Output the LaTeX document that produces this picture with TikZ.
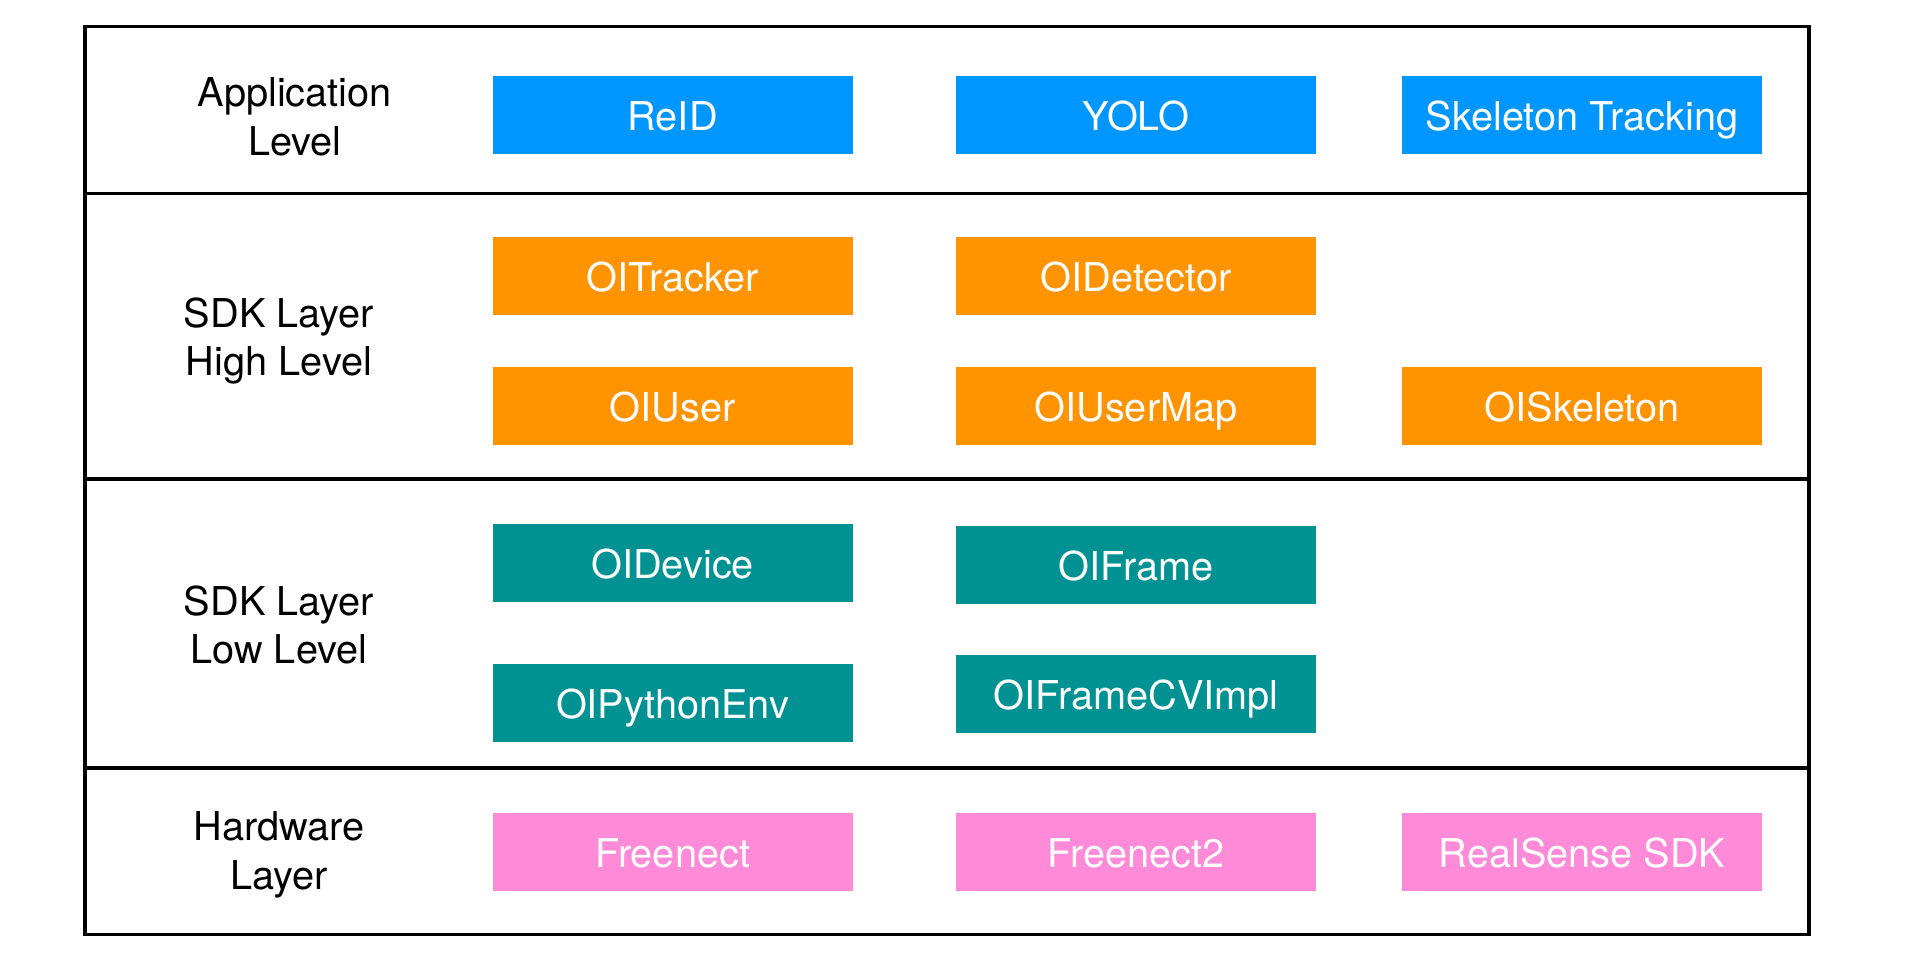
\documentclass[tikz,border=0pt]{standalone}
\usepackage{fontspec}
\setmainfont{TeX Gyre Heros}
\usepackage{tikz}
\usetikzlibrary{positioning}
\definecolor{appblue}{HTML}{0096FF}
\definecolor{highorange}{HTML}{FF9300}
\definecolor{lowteal}{HTML}{009193}
\definecolor{hwpink}{HTML}{FF8AD8}

\begin{document}
\begin{tikzpicture}[x=1cm,y=-1cm,
 layerbox/.style={rectangle,draw=black,line width=1pt,outer sep=0pt,
   minimum width=17.24cm,inner sep=0pt,anchor=north west},
 levelname/.style={align=center,
   font=\fontsize{11.3}{13.9}\selectfont},
 modbox/.style={rectangle,minimum width=3.6cm,minimum height=0.78cm,
   inner sep=0pt,text=white,text height=0.36cm,text depth=0.05cm,
   font=\fontsize{11.3}{13.9}\selectfont}]
 \useasboundingbox (0,0) rectangle (19.18,9.55);
 % layers
 \node[layerbox,minimum height=1.666cm] (app) at (0.85,0.267) {};
 \node[layerbox,minimum height=2.857cm] (high) at (app.south west) {};
 \node[layerbox,minimum height=2.888cm] (low) at (high.south west) {};
 \node[layerbox,minimum height=1.665cm] (hw) at (low.south west) {};
 % level names
 \node[levelname] (appname) at (2.948,1.17) {Application\\Level};
 \node[levelname] (highname) at (2.79,3.41) {SDK Layer\\High Level};
 \node[levelname] (lowname) at (2.79,6.25) {SDK Layer\\Low Level};
 \node[levelname] (hwname) at (2.79,8.55) {Hardware\\Layer};
 % application level
 \node[modbox,fill=appblue] (reid) at (6.726,1.15) {ReID};
 \node[modbox,fill=appblue] (yolo) at (11.36,1.15) {YOLO};
 \node[modbox,fill=appblue] (skeltrack) at (15.82,1.15) {Skeleton Tracking};
 % sdk high level
 \node[modbox,fill=highorange] (tracker) at (6.726,2.76) {OITracker};
 \node[modbox,fill=highorange] (detector) at (11.36,2.76) {OIDetector};
 \node[modbox,fill=highorange] (user) at (6.726,4.055) {OIUser};
 \node[modbox,fill=highorange] (usermap) at (11.36,4.055) {OIUserMap};
 \node[modbox,fill=highorange] (skeleton) at (15.82,4.055) {OISkeleton};
 % sdk low level
 \node[modbox,fill=lowteal] (device) at (6.726,5.627) {OIDevice};
 \node[modbox,fill=lowteal] (frame) at (11.36,5.65) {OIFrame};
 \node[modbox,fill=lowteal] (pyenv) at (6.726,7.025) {OIPythonEnv};
 \node[modbox,fill=lowteal] (cvimpl) at (11.36,6.94) {OIFrameCVImpl};
 % hardware layer
 \node[modbox,fill=hwpink] (freenect) at (6.726,8.515) {Freenect};
 \node[modbox,fill=hwpink] (freenecttwo) at (11.36,8.515) {Freenect2};
 \node[modbox,fill=hwpink] (realsense) at (15.82,8.515) {RealSense SDK};
\end{tikzpicture}
\end{document}
